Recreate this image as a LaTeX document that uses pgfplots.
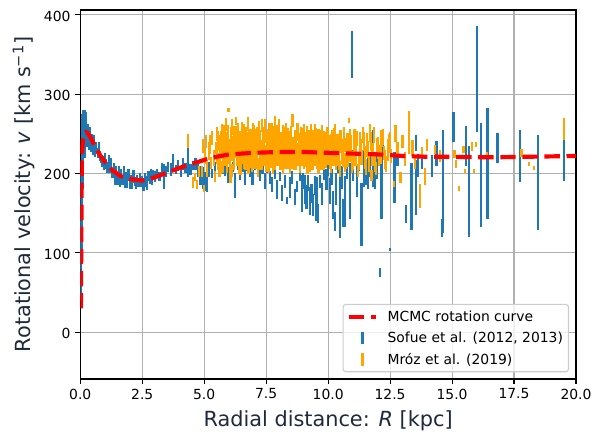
\documentclass[border=0pt]{standalone}
\usepackage{fontspec}
\setmainfont{DejaVu Sans}
\usepackage{pgfplots}
\pgfplotsset{compat=1.18}
\usepackage{pgfplotstable}
\definecolor{sofue}{HTML}{1F77B4}
\definecolor{mroz}{HTML}{FFA500}
\definecolor{gridgray}{HTML}{B0B0B0}
\definecolor{labelc}{HTML}{1E2A3A}
\definecolor{legedge}{HTML}{CCCCCC}

\pgfplotstableread{
R v e
0.01 72 32
0.04 110 30
0.05 150 50
0.07 185 90
0.08 200 40
0.10 230 50
0.12 245 30
0.14 255 25
0.17 260 20
0.20 250 30
0.23 262 15
0.27 245 12
0.30 252 10
0.34 240 10
0.38 247 11
0.42 235 8
0.46 242 8
0.50 230 7
0.55 238 10
0.60 228 7
0.65 232 8
0.70 226 6
0.75 230 9
0.80 222 6
0.85 218 5
0.90 215 7
0.95 210 6
1.00 218 8
1.05 212 6
1.10 208 7
1.15 215 8
1.20 206 6
1.25 210 9
1.30 200 6
1.35 205 8
1.40 196 10
1.45 203 7
1.50 194 8
1.55 200 9
1.60 190 7
1.65 197 8
1.70 192 6
1.75 200 9
1.80 188 6
1.85 195 7
1.90 190 8
1.95 198 8
2.00 186 6
2.05 192 6
2.10 188 7
2.15 196 8
2.20 190 6
2.25 185 5
2.30 192 6
2.35 188 5
2.40 195 5
2.45 189 6
2.50 192 5
2.55 186 8
2.60 194 6
2.65 190 7
2.70 188 9
2.75 197 6
2.80 192 5
2.85 200 6
2.90 194 8
2.95 198 6
3.00 196 7
3.10 200 6
3.20 196 6
3.30 205 8
3.37 196 16
3.45 203 7
3.55 208 6
3.65 205 8
3.75 215 10
3.85 205 6
3.95 210 7
4.05 202 6
4.15 212 8
4.25 207 6
4.35 214 18
4.45 205 7
4.55 210 6
4.65 212 8
4.75 205 10
4.85 198 12
4.95 194 14
5.05 190 12
5.10 188 12
5.20 205 10
5.30 200 6
5.43 206 8
5.55 210 6
5.65 202 6
5.75 206 7
5.85 205 8
5.95 198 10
6.05 202 11
6.15 208 6
6.25 185 16
6.35 212 8
6.45 200 8
6.55 208 6
6.65 196 10
6.75 210 7
6.85 204 8
6.95 195 9
7.05 212 8
7.17 212 8
7.25 200 10
7.35 205 6
7.45 190 10
7.55 208 8
7.65 195 8
7.75 186 10
7.85 200 7
7.95 180 12
8.05 196 6
8.15 175 10
8.25 190 8
8.33 166 4
8.45 182 13
8.55 195 8
8.65 170 10
8.73 183 7
8.85 200 10
8.93 175 23
9.00 190 10
9.06 180 18
9.13 170 15
9.20 188 10
9.27 165 18
9.33 175 12
9.40 160 14
9.47 185 12
9.53 168 28
9.60 150 12
9.67 190 8
9.75 174 14
9.82 200 8
9.93 192 13
10.00 205 8
10.07 178 16
10.14 195 10
10.20 160 18
10.27 140 12
10.33 180 20
10.40 210 10
10.47 162 43
10.55 195 15
10.62 150 18
10.67 165 32
10.75 205 12
10.87 178 35
10.96 350 30
11.00 210 20
11.07 230 15
11.15 190 20
11.25 215 12
11.35 148 40
11.45 217 34
11.52 200 15
11.60 202 22
11.70 210 15
11.80 219 36
11.90 200 20
11.97 218 25
12.08 75 6
12.15 195 53
12.20 235 10
12.49 104 2
12.68 195 32
12.80 225 15
13.13 149 11
13.36 171 42
13.54 182 35
13.56 238 10
13.63 210 14
13.80 215 10
14.20 209 14
14.37 225 16
14.58 131 11
14.64 190 65
15.06 259 19
15.55 235 25
15.67 177 57
16.02 319 67
16.16 198 65
16.43 213 70
16.83 232 19
17.73 222 33
18.46 189 60
19.50 216 26
}\sofuedata

\pgfplotstableread{
R v e
4.35 241 9
4.55 189 7
4.62 196 5
4.70 186 6
4.80 203 7
4.90 203 7
4.96 235 9
5.00 181 5
5.04 222 10
5.08 240 8
5.12 205 9
5.18 228 11
5.22 236 12
5.28 213 8
5.33 245 9
5.38 220 10
5.43 196 7
5.48 232 8
5.53 250 9
5.58 215 11
5.62 238 10
5.66 226 7
5.70 244 9
5.74 208 8
5.78 255 6
5.82 230 10
5.86 219 9
5.90 240 12
5.94 226 8
5.98 280 3
6.01 234 10
6.04 212 9
6.07 248 11
6.10 228 12
6.13 204 8
6.16 238 9
6.19 222 14
6.22 252 8
6.25 230 10
6.28 266 5
6.31 218 9
6.34 240 11
6.37 226 13
6.40 210 10
6.43 245 9
6.46 232 12
6.49 220 8
6.52 258 7
6.55 236 10
6.58 224 11
6.61 214 9
6.64 242 10
6.67 230 14
6.70 250 8
6.73 222 10
6.76 236 12
6.79 208 9
6.82 246 10
6.85 230 9
6.88 218 11
6.91 240 13
6.94 226 8
6.97 256 7
7.00 234 10
7.03 214 9
7.06 244 12
7.09 228 11
7.12 220 14
7.15 250 9
7.18 236 10
7.21 212 8
7.24 242 13
7.27 230 12
7.30 224 10
7.33 260 8
7.36 238 11
7.39 218 9
7.42 232 14
7.45 248 10
7.48 226 9
7.51 210 8
7.54 240 12
7.57 230 13
7.60 254 9
7.63 222 10
7.66 236 11
7.69 216 9
7.72 244 12
7.75 228 14
7.78 206 7
7.81 250 10
7.84 234 11
7.87 264 9
7.90 224 12
7.93 240 10
7.96 218 9
7.99 232 13
8.02 246 11
8.05 226 10
8.08 212 8
8.11 238 12
8.14 228 14
8.17 252 9
8.20 220 10
8.23 236 11
8.26 214 9
8.29 244 12
8.32 230 10
8.35 222 13
8.38 248 9
8.41 234 11
8.44 216 8
8.47 240 12
8.50 226 10
8.53 218 12
8.56 267 8
8.59 232 11
8.62 224 14
8.65 244 9
8.68 212 8
8.71 236 12
8.74 228 10
8.77 250 9
8.80 220 11
8.83 238 13
8.86 216 9
8.89 242 10
8.92 230 12
8.95 222 9
8.98 246 11
9.01 234 10
9.04 214 8
9.07 240 12
9.10 226 13
9.13 218 9
9.16 250 10
9.19 232 11
9.22 222 12
9.25 242 9
9.28 210 8
9.31 236 12
9.34 226 10
9.37 244 11
9.40 218 9
9.43 232 12
9.46 256 6
9.49 224 10
9.52 238 12
9.55 214 9
9.58 230 11
9.61 246 10
9.64 222 12
9.67 234 9
9.70 212 8
9.73 240 11
9.76 228 12
9.79 220 10
9.82 244 9
9.85 230 11
9.88 216 9
9.91 238 12
9.94 226 10
9.97 250 8
10.00 222 11
10.04 236 12
10.08 214 9
10.12 240 10
10.16 228 12
10.20 218 9
10.25 246 11
10.30 232 10
10.35 222 12
10.40 238 9
10.45 212 8
10.50 244 11
10.55 228 10
10.60 220 12
10.66 236 9
10.72 216 10
10.78 240 11
10.84 267 3
10.90 226 12
10.96 210 9
11.03 238 10
11.10 222 12
11.17 244 9
11.24 214 10
11.31 232 11
11.38 220 9
11.45 240 12
11.52 208 10
11.60 230 11
11.68 251 11
11.75 197 7
11.82 226 10
11.90 214 12
11.98 236 9
12.06 220 10
12.15 244 11
12.25 226 9
12.35 212 10
12.45 238 12
12.55 222 9
12.65 187 4
12.72 250 11
12.80 230 9
12.92 195 7
13.00 240 8
13.10 218 9
13.27 252 27
13.40 232 10
13.50 214 8
13.70 172 15
13.80 226 7
13.90 196 11
14.00 236 8
14.30 230 6
14.50 222 7
15.10 225 5
15.15 212 5
15.27 181 3
15.46 230 4
15.51 203 3
15.79 234 6
15.90 203 2
15.95 236 3
16.40 224 3
17.80 226 5
18.10 212 3
18.30 207 3
19.52 256 14
}\mrozdata

\pgfplotstableread{
R v e
5.515 226 14
5.565 242 12
5.615 210 15
5.665 234 16
5.715 252 10
5.765 220 14
5.815 238 15
5.865 262 8
5.915 214 13
5.965 246 15
6.015 228 16
6.065 200 12
6.115 258 10
6.165 232 15
6.215 218 14
6.265 244 16
6.315 226 13
6.365 252 12
6.415 234 16
6.465 212 14
6.515 240 15
6.565 228 16
6.615 250 12
6.665 218 14
6.715 236 16
6.765 262 9
6.815 224 15
6.865 242 14
6.915 214 12
6.965 232 16
7.015 248 13
7.065 226 15
7.115 238 16
7.165 206 10
7.215 254 12
7.265 230 16
7.315 218 14
7.365 244 15
7.415 228 16
7.465 258 10
7.515 222 14
7.565 240 16
7.615 212 12
7.665 234 15
7.715 250 13
7.765 226 16
7.815 240 14
7.865 216 12
7.915 246 15
7.965 230 16
8.015 258 11
8.065 222 14
8.115 236 16
8.165 212 12
8.215 244 15
8.265 228 16
8.315 252 12
8.365 220 14
8.415 238 16
8.465 210 10
8.515 246 14
8.565 230 16
8.615 218 14
8.665 240 15
8.715 226 16
8.765 254 10
8.815 232 15
8.865 214 13
8.915 244 15
8.965 226 16
9.015 250 12
9.065 222 14
9.115 236 16
9.165 210 11
9.215 240 15
9.265 228 16
9.315 252 10
9.365 218 14
9.415 236 16
9.465 224 15
9.515 244 13
9.565 230 16
9.615 212 12
9.665 240 15
9.715 226 16
9.765 250 11
9.815 218 14
9.865 236 16
9.915 222 15
9.965 242 13
10.02 228 16
10.10 212 12
10.18 240 15
10.22 226 16
10.28 252 10
10.33 218 14
10.38 234 16
10.43 224 15
10.48 206 10
10.53 240 14
10.58 228 16
10.63 250 9
10.69 214 12
10.75 232 15
10.81 222 14
10.87 244 12
10.93 232 16
11.00 216 12
11.06 246 10
11.13 228 15
11.20 204 8
11.27 238 14
11.34 226 15
11.41 248 10
11.48 220 14
11.56 236 15
11.64 212 10
11.72 240 12
11.79 224 14
11.86 248 10
11.94 206 8
12.02 232 14
12.11 224 12
12.20 246 10
12.30 218 12
12.40 230 14
12.50 242 10
}\mrozdatab

\pgfplotstableread{
R v
0.025 30
0.045 130
0.060 215
0.080 232
0.110 242
0.150 248
0.230 252
0.300 251
0.400 246
0.500 240
0.600 234
0.800 223
1.000 214
1.300 204
1.600 197
2.000 193
2.500 191
3.000 195
3.500 201
4.000 207
4.500 212
5.000 217
5.500 221
6.000 224
7.000 226
8.000 227
9.000 227
10.00 226
11.00 225
12.00 224
13.00 222
14.00 221
15.00 221
16.00 220.5
17.00 220.5
18.00 221
19.00 221.5
20.00 222
}\mcmcdata

\begin{document}
\begin{tikzpicture}
\path[use as bounding box] (-57.8pt,-45.3pt) rectangle (375pt,272.9pt);
\begin{axis}[
  scale only axis, width=357pt, height=265.7pt,
  at={(0pt,0pt)}, anchor=south west,
  xmin=0, xmax=20, ymin=-59, ymax=406,
  xtick={0,2.5,5,7.5,10,12.5,15,17.5,20},
  ytick={0,100,200,300,400},
  xticklabels={0.0,2.5,5.0,7.5,10.0,12.5,15.0,17.5,20.0},
  /pgf/number format/assume math mode=true,
  tick align=outside, tick pos=left,
  major tick length=3.5pt,
  every tick/.style={black, line width=0.8pt},
  ticklabel style={font=\fontsize{10}{12}\selectfont, text=black},
  yticklabel style={yshift=-1pt},
  axis line style={line width=0.8pt, black},
  grid=major,
  grid style={line width=0.8pt, draw=gridgray},
  xlabel={Radial distance: \textit{R} [kpc]},
  ylabel={Rotational velocity: \textit{v} [km s\textsuperscript{−1}]},
  label style={font=\fontsize{15}{18}\selectfont, text=labelc},
  xlabel style={at={(axis description cs:0.5,-0.1291)}, anchor=base},
  ylabel style={at={(axis description cs:-0.1,0.5)}, anchor=base},
  legend cell align=left,
  legend style={at={(0.986,0.018)}, anchor=south east,
    draw=legedge, line width=0.8pt, rounded corners=2pt,
    fill=white, fill opacity=0.8, text opacity=1,
    inner xsep=0pt, inner ysep=1.3pt,
    column sep=0pt, row sep=0pt,
    font=\fontsize{10}{12}\selectfont,
    nodes={inner xsep=4pt, inner ysep=3.15pt, text height=8pt, text depth=1pt}},
]
\addlegendimage{red, mark=none, line width=3pt, legend image code/.code={\path[draw=none] (0pt,0pt) (28pt,0pt); \draw[red, line width=3pt, dash pattern=on 11.1pt off 4.8pt] (4pt,0pt) -- (24pt,0pt);}}
\addlegendentry{MCMC rotation curve}
\addlegendimage{sofue, mark=none, legend image code/.code={\path[draw=none] (0pt,0pt) (28pt,0pt); \draw[sofue, line width=1.6pt, solid] (14pt,-4.5pt) -- (14pt,4.5pt);}}
\addlegendentry{Sofue et al. (2012, 2013)}
\addlegendimage{mroz, mark=none, legend image code/.code={\path[draw=none] (0pt,0pt) (28pt,0pt); \draw[mroz, line width=1.6pt, solid] (14pt,-4.5pt) -- (14pt,4.5pt);}}
\addlegendentry{Mróz et al. (2019)}

\addplot[forget plot, draw=none, mark=none,
  error bars/.cd, y dir=both, y explicit, error mark=none,
  error bar style={draw=sofue, line width=1.6pt, solid}]
  table[x=R, y=v, y error=e] {\sofuedata};
\addplot[forget plot, draw=none, mark=none,
  error bars/.cd, y dir=both, y explicit, error mark=none,
  error bar style={draw=mroz, line width=1.6pt, solid}]
  table[x=R, y=v, y error=e] {\mrozdata};
\addplot[forget plot, draw=none, mark=none,
  error bars/.cd, y dir=both, y explicit, error mark=none,
  error bar style={draw=mroz, line width=1.6pt, solid}]
  table[x=R, y=v, y error=e] {\mrozdatab};
\addplot[forget plot, red, line width=3pt, dash pattern=on 11.1pt off 4.8pt, mark=none]
  table[x=R, y=v] {\mcmcdata};
\end{axis}
\end{tikzpicture}
\end{document}
